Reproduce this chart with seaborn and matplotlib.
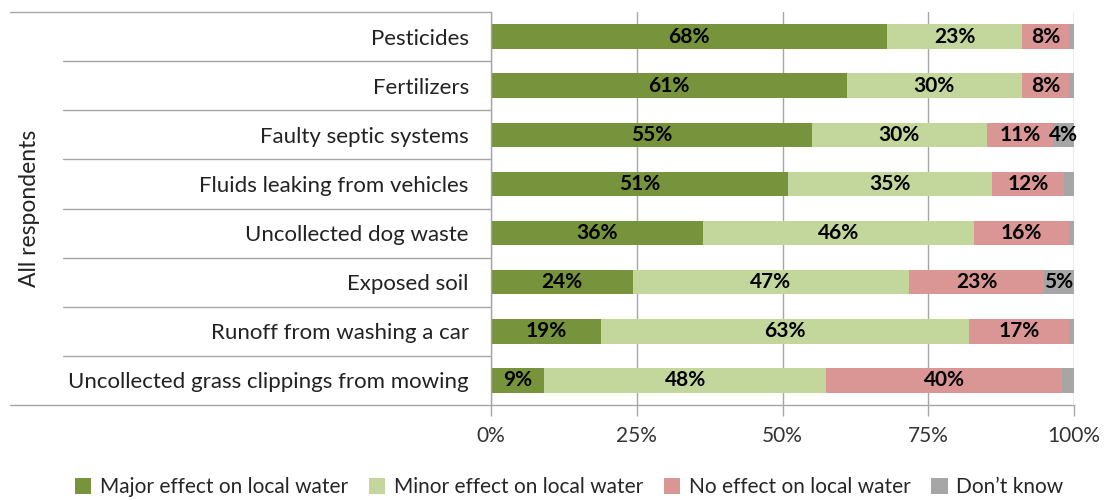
import numpy as np
import pandas as pd
import seaborn as sns
import matplotlib.pyplot as plt
from matplotlib.patches import Patch
from matplotlib.transforms import blended_transform_factory

categories = ['Pesticides', 'Fertilizers', 'Faulty septic systems',
              'Fluids leaking from vehicles', 'Uncollected dog waste',
              'Exposed soil', 'Runoff from washing a car',
              'Uncollected grass clippings from mowing']
major = [68, 61, 55, 51, 36.4, 24.3, 18.9, 9.1]
minor = [23, 30, 30, 35, 46.4, 47.4, 63.1, 48.4]
no_effect = [8.2, 8.2, 11.4, 12.3, 16.4, 23.2, 17.2, 40.4]
dont_know = [0.8, 0.8, 3.6, 1.7, 0.8, 5.1, 0.8, 2.1]
series_names = ['Major effect on local water', 'Minor effect on local water',
                'No effect on local water', 'Don\u2019t know']
colors = ['#77933C', '#C3D69B', '#D99694', '#A6A6A6']
xticks = [0, 25, 50, 75, 100]

sns.set_style('white')
plt.rcParams['font.family'] = ['Lato', 'DejaVu Sans']

vals = np.array([major, minor, no_effect, dont_know])
cum = vals.cumsum(axis=0)

fig = plt.figure(figsize=(11.06, 5.0), dpi=100)
ax = fig.add_axes([491/1106, 1 - 405/500, (1074 - 491)/1106, (405 - 12)/500])

# stacked bars: draw cumulative totals from the outermost layer inward
for i in range(3, -1, -1):
    df = pd.DataFrame({'cat': categories, 'val': cum[i]})
    sns.barplot(data=df, x='val', y='cat', order=categories, orient='h',
                color=colors[i], width=0.5, linewidth=0, saturation=1, ax=ax)

for i in range(4):
    lefts = cum[i] - vals[i]
    for j, v in enumerate(vals[i]):
        if v >= 3:
            ax.text(lefts[j] + v / 2, j, f'{int(v + 0.5)}%', ha='center', va='center',
                    fontsize=15, fontweight='bold', color='black')

ax.set_xlim(0, 100)
ax.set_ylim(len(categories) - 0.5, -0.5)
ax.set_xticks(xticks)
ax.set_xticklabels([f'{t}%' for t in xticks], fontsize=15, color='#333333')
ax.set_xlabel('')
ax.set_ylabel('')
ax.xaxis.grid(True, color='#A6A6A6', linewidth=1)
ax.set_axisbelow(True)
ax.tick_params(axis='x', length=8, color='#A6A6A6', width=1, pad=7, bottom=True)
ax.tick_params(axis='y', length=0, pad=16, labelsize=16, labelcolor='#222222')
for s in ['top', 'right']:
    ax.spines[s].set_visible(False)
for s in ['left', 'bottom']:
    ax.spines[s].set_color('#A6A6A6')
    ax.spines[s].set_linewidth(1)

# category table lines to the left of the plot
tr = blended_transform_factory(fig.transFigure, ax.transData)
for k in range(1, len(categories)):
    ax.plot([63/1106, 491/1106], [k - 0.5, k - 0.5], transform=tr,
            color='#A6A6A6', linewidth=1, clip_on=False)
for yy in [-0.5, len(categories) - 0.5]:
    ax.plot([10/1106, 491/1106], [yy, yy], transform=tr,
            color='#A6A6A6', linewidth=1, clip_on=False)

fig.text(30/1106, 1 - 208/500, 'All respondents', rotation=90, ha='center',
         va='center', fontsize=16.5, color='#222222')

handles = [Patch(facecolor=c, edgecolor='none') for c in colors]
fig.legend(handles, series_names, loc='center', bbox_to_anchor=(569/1106, 1 - 487/500),
           ncol=4, frameon=False, fontsize=15, handlelength=0.8, handleheight=0.8,
           handletextpad=0.4, columnspacing=1.0)

plt.savefig('out.png', dpi=100)
plt.close()
